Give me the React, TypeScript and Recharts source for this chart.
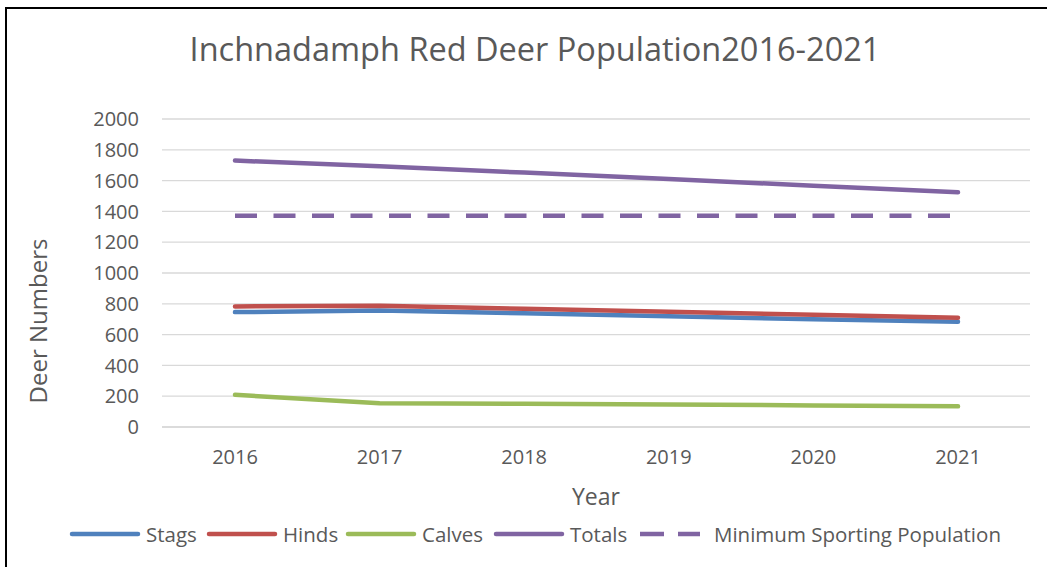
import React from 'react'
import { LineChart, Line, XAxis, YAxis, CartesianGrid } from 'recharts'

const years = ['2016', '2017', '2018', '2019', '2020', '2021']
const stags = [746, 756, 738, 719, 700, 683]
const hinds = [783, 788, 768, 749, 729, 709]
const calves = [209, 155, 151, 146, 140, 134]
const totals = [1730, 1693, 1652, 1610, 1567, 1524]
const minimumSporting = [1372, 1372, 1372, 1372, 1372, 1372]
const yTicks = [0, 200, 400, 600, 800, 1000, 1200, 1400, 1600, 1800, 2000]

const FONT = '"Open Sans", sans-serif'
const TEXT = '#595959'

const series = [
    { key: 'stags', name: 'Stags', color: '#4F81BD', dashed: false },
    { key: 'hinds', name: 'Hinds', color: '#C0504D', dashed: false },
    { key: 'calves', name: 'Calves', color: '#9BBB59', dashed: false },
    { key: 'totals', name: 'Totals', color: '#8064A2', dashed: false },
    { key: 'minimum', name: 'Minimum Sporting Population', color: '#8064A2', dashed: true }
]

// left edge of each legend entry's swatch
const legendX = [69, 206, 345, 493, 639]

const data = years.map((year, i) => ({
    year,
    stags: stags[i],
    hinds: hinds[i],
    calves: calves[i],
    totals: totals[i],
    minimum: minimumSporting[i]
}))

function LegendRow() {
    return (
        <>
            {series.map((s, i) => (
                <div key={s.key} style={{
                    position: 'absolute', left: legendX[i], top: 519, height: 30,
                    display: 'flex', alignItems: 'center', fontFamily: FONT, fontSize: 20.5, color: TEXT,
                    whiteSpace: 'nowrap'
                }}>
                    <svg width={s.dashed ? 66 : 72} height={10} style={{ marginRight: s.dashed ? 9 : 5 }}>
                        {s.dashed ? (
                            <line x1={1} y1={5} x2={61} y2={5} stroke={s.color} strokeWidth={4.5}
                                strokeDasharray="24 14" />
                        ) : (
                            <line x1={3} y1={5} x2={69} y2={5} stroke={s.color} strokeWidth={4.5}
                                strokeLinecap="round" />
                        )}
                    </svg>
                    <span>{s.name}</span>
                </div>
            ))}
        </>
    )
}

export default function App() {
    return (
        <div style={{ position: 'absolute', left: 0, top: 0, width: 1047, height: 567, background: '#fff', overflow: 'hidden' }}>
            <div style={{
                position: 'absolute', left: 5, top: 7, width: 1100, height: 600,
                borderLeft: '2px solid #000', borderTop: '2px solid #000'
            }} />
            <div style={{
                position: 'absolute', left: 0, width: 1070, top: 27, textAlign: 'center',
                fontFamily: FONT, fontSize: 32.5, color: TEXT, lineHeight: '44px'
            }}>
                Inchnadamph Red Deer Population2016-2021
            </div>
            <LineChart
                width={1047}
                height={567}
                data={data}
                margin={{ top: 119, right: 17, left: 92, bottom: 110 }}
                style={{ position: 'absolute', left: 0, top: 0 }}
            >
                <CartesianGrid vertical={false} stroke="#d9d9d9" strokeWidth={1.3} />
                <XAxis
                    dataKey="year"
                    height={30}
                    padding={{ left: 73, right: 72 }}
                    axisLine={{ stroke: '#d9d9d9', strokeWidth: 1.3 }}
                    tickLine={false}
                    tickMargin={17}
                    tick={{ fill: TEXT, fontSize: 20, fontFamily: FONT }}
                />
                <YAxis
                    width={70}
                    domain={[0, 2000]}
                    ticks={yTicks}
                    axisLine={false}
                    tickLine={false}
                    tickMargin={17}
                    tick={{ fill: TEXT, fontSize: 20, fontFamily: FONT }}
                />
                {series.map(s => (
                    <Line
                        key={s.key}
                        dataKey={s.key}
                        name={s.name}
                        type="linear"
                        stroke={s.color}
                        strokeWidth={4.5}
                        strokeLinecap={s.dashed ? 'butt' : 'round'}
                        strokeLinejoin="round"
                        strokeDasharray={s.dashed ? '22 16.5' : undefined}
                        dot={false}
                        activeDot={false}
                        isAnimationActive={false}
                    />
                ))}
            </LineChart>
            <div style={{
                position: 'absolute', left: 37, top: 321, transform: 'translate(-50%, -50%) rotate(-90deg)',
                fontFamily: FONT, fontSize: 24, color: TEXT, whiteSpace: 'nowrap'
            }}>
                Deer Numbers
            </div>
            <div style={{
                position: 'absolute', left: 596, top: 496, transform: 'translate(-50%, -50%)',
                fontFamily: FONT, fontSize: 23, color: TEXT
            }}>
                Year
            </div>
            <LegendRow />
        </div>
    )
}
